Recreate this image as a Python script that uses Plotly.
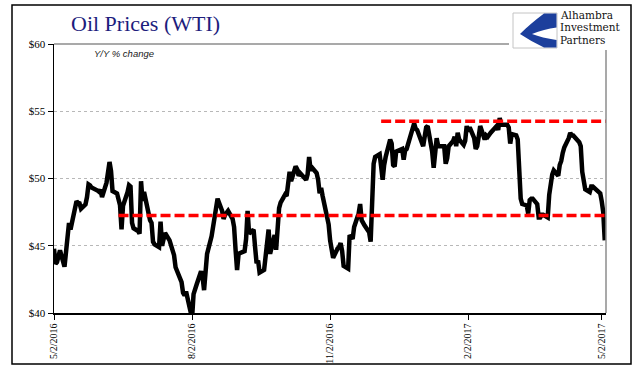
import plotly.graph_objects as go

# ---------------- data ----------------
trade_dates = [
    # May 2016
    "2016-05-02", "2016-05-03", "2016-05-04", "2016-05-05", "2016-05-06", "2016-05-09", "2016-05-10",
    "2016-05-11", "2016-05-12", "2016-05-13", "2016-05-16", "2016-05-17", "2016-05-18", "2016-05-19",
    "2016-05-20", "2016-05-23", "2016-05-24", "2016-05-25", "2016-05-26", "2016-05-27", "2016-05-31",
    # Jun 2016
    "2016-06-01", "2016-06-02", "2016-06-03", "2016-06-06", "2016-06-07", "2016-06-08", "2016-06-09",
    "2016-06-10", "2016-06-13", "2016-06-14", "2016-06-15", "2016-06-16", "2016-06-17", "2016-06-20",
    "2016-06-21", "2016-06-22", "2016-06-23", "2016-06-24", "2016-06-27", "2016-06-28", "2016-06-29",
    "2016-06-30",
    # Jul 2016
    "2016-07-01", "2016-07-05", "2016-07-06", "2016-07-07", "2016-07-08", "2016-07-11", "2016-07-12",
    "2016-07-13", "2016-07-14", "2016-07-15", "2016-07-18", "2016-07-19", "2016-07-20", "2016-07-21",
    "2016-07-22", "2016-07-25", "2016-07-26", "2016-07-27", "2016-07-28", "2016-07-29",
    # Aug 2016
    "2016-08-01", "2016-08-02", "2016-08-03", "2016-08-04", "2016-08-05", "2016-08-08", "2016-08-09",
    "2016-08-10", "2016-08-11", "2016-08-12", "2016-08-15", "2016-08-16", "2016-08-17", "2016-08-18",
    "2016-08-19", "2016-08-22", "2016-08-23", "2016-08-24", "2016-08-25", "2016-08-26", "2016-08-29",
    "2016-08-30", "2016-08-31",
    # Sep 2016
    "2016-09-01", "2016-09-02", "2016-09-06", "2016-09-07", "2016-09-08", "2016-09-09", "2016-09-12",
    "2016-09-13", "2016-09-14", "2016-09-15", "2016-09-16", "2016-09-19", "2016-09-20", "2016-09-21",
    "2016-09-22", "2016-09-23", "2016-09-26", "2016-09-27", "2016-09-28", "2016-09-29", "2016-09-30",
    # Oct 2016
    "2016-10-03", "2016-10-04", "2016-10-05", "2016-10-06", "2016-10-07", "2016-10-10", "2016-10-11",
    "2016-10-12", "2016-10-13", "2016-10-14", "2016-10-17", "2016-10-18", "2016-10-19", "2016-10-20",
    "2016-10-21", "2016-10-24", "2016-10-25", "2016-10-26", "2016-10-27", "2016-10-28", "2016-10-31",
    # Nov 2016
    "2016-11-01", "2016-11-02", "2016-11-03", "2016-11-04", "2016-11-07", "2016-11-08", "2016-11-09",
    "2016-11-10", "2016-11-11", "2016-11-14", "2016-11-15", "2016-11-16", "2016-11-17", "2016-11-18",
    "2016-11-21", "2016-11-22", "2016-11-23", "2016-11-25", "2016-11-28", "2016-11-29", "2016-11-30",
    # Dec 2016
    "2016-12-01", "2016-12-02", "2016-12-05", "2016-12-06", "2016-12-07", "2016-12-08", "2016-12-09",
    "2016-12-12", "2016-12-13", "2016-12-14", "2016-12-15", "2016-12-16", "2016-12-19", "2016-12-20",
    "2016-12-21", "2016-12-22", "2016-12-23", "2016-12-27", "2016-12-28", "2016-12-29", "2016-12-30",
    # Jan 2017
    "2017-01-03", "2017-01-04", "2017-01-05", "2017-01-06", "2017-01-09", "2017-01-10", "2017-01-11",
    "2017-01-12", "2017-01-13", "2017-01-17", "2017-01-18", "2017-01-19", "2017-01-20", "2017-01-23",
    "2017-01-24", "2017-01-25", "2017-01-26", "2017-01-27", "2017-01-30", "2017-01-31",
    # Feb 2017
    "2017-02-01", "2017-02-02", "2017-02-03", "2017-02-06", "2017-02-07", "2017-02-08", "2017-02-09",
    "2017-02-10", "2017-02-13", "2017-02-14", "2017-02-15", "2017-02-16", "2017-02-17", "2017-02-21",
    "2017-02-22", "2017-02-23", "2017-02-24", "2017-02-27", "2017-02-28",
    # Mar 2017
    "2017-03-01", "2017-03-02", "2017-03-03", "2017-03-06", "2017-03-07", "2017-03-08", "2017-03-09",
    "2017-03-10", "2017-03-13", "2017-03-14", "2017-03-15", "2017-03-16", "2017-03-17", "2017-03-20",
    "2017-03-21", "2017-03-22", "2017-03-23", "2017-03-24", "2017-03-27", "2017-03-28", "2017-03-29",
    "2017-03-30", "2017-03-31",
    # Apr 2017
    "2017-04-03", "2017-04-04", "2017-04-05", "2017-04-06", "2017-04-07", "2017-04-10", "2017-04-11",
    "2017-04-12", "2017-04-13", "2017-04-17", "2017-04-18", "2017-04-19", "2017-04-20", "2017-04-21",
    "2017-04-24", "2017-04-25", "2017-04-26", "2017-04-27", "2017-04-28",
    # May 2017
    "2017-05-01", "2017-05-02", "2017-05-03", "2017-05-04",
]

wti_price = [
    # May 2016
    44.78, 43.65, 43.78, 44.32, 44.66, 43.44, 44.66, 46.23, 46.70, 46.21, 47.72, 48.31, 48.19, 48.16,
    47.75, 48.08, 48.62, 49.56, 49.48, 49.33, 49.10,
    # Jun 2016
    49.01, 49.17, 48.62, 49.69, 50.36, 51.23, 50.56, 49.07, 48.88, 48.49, 48.01, 46.21, 47.98, 48.98,
    49.50, 49.40, 46.70, 46.30, 46.10, 45.90, 49.80, 48.33,
    # Jul 2016
    49.00, 46.90, 46.70, 45.30, 45.10, 44.90, 46.80, 45.00, 45.70, 45.95, 45.40, 45.00, 44.90, 44.30,
    43.40, 42.50, 42.30, 41.50, 41.30, 41.60,
    # Aug 2016
    40.30, 39.60, 41.40, 41.90, 42.10, 43.10, 42.70, 41.70, 43.60, 44.40, 45.70, 46.50, 47.00, 48.20,
    48.50, 47.60, 47.00, 47.30, 47.50, 47.60, 47.00, 46.40, 44.70,
    # Sep 2016
    43.20, 44.40, 44.60, 45.50, 47.60, 45.90, 46.20, 44.90, 43.70, 43.90, 43.00, 43.20, 44.10, 45.30,
    46.20, 44.40, 45.80, 44.70, 47.10, 47.80, 48.20,
    # Oct 2016
    48.80, 48.70, 49.80, 50.50, 49.80, 50.90, 50.70, 50.20, 50.40, 50.30, 49.90, 50.30, 51.60, 50.60,
    50.80, 50.40, 49.90, 48.90, 49.30, 48.70, 46.90,
    # Nov 2016
    46.60, 45.40, 44.60, 44.10, 44.80, 44.90, 45.20, 44.60, 43.50, 43.30, 45.80, 45.60, 45.50, 46.40,
    47.40, 48.10, 46.90, 46.50, 46.00, 45.30, 49.40,
    # Dec 2016
    51.10, 51.60, 51.80, 50.90, 49.90, 51.00, 51.60, 52.90, 52.60, 51.00, 50.90, 52.00, 52.10, 52.20,
    51.40, 52.10, 52.20, 53.90, 54.10, 53.70, 53.60,
    # Jan 2017
    52.40, 53.30, 53.80, 53.90, 52.00, 50.80, 52.30, 53.00, 52.40, 52.40, 51.10, 51.50, 52.40, 52.80,
    53.10, 52.40, 53.40, 52.90, 52.50, 52.80,
    # Feb 2017
    53.90, 53.50, 53.80, 53.00, 52.20, 52.40, 53.10, 53.90, 52.90, 53.20, 53.10, 53.30, 53.40, 53.90,
    53.60, 54.50, 54.00, 54.00, 54.00,
    # Mar 2017
    53.80, 52.60, 53.30, 53.20, 52.90, 49.80, 48.50, 48.10, 48.00, 47.40, 48.40, 48.50, 48.50, 48.10,
    47.10, 47.10, 47.30, 47.30, 47.10, 48.80, 49.90, 50.30, 50.60,
    # Apr 2017
    50.20, 51.00, 51.30, 51.90, 52.30, 53.00, 53.40, 53.20, 53.20, 52.70, 52.40, 50.50, 49.70, 49.20,
    49.00, 49.40, 49.40, 49.30, 49.20,
    # May 2017
    48.90, 48.30, 47.50, 45.40,
]

# horizontal reference levels (red dashed)
ref_levels = [47.25, 54.25]
ref_start = ["2016-06-14", "2016-12-06"]
ref_end = ["2017-05-04 20:00", "2017-05-04 20:00"]

x_tick_dates = ["2016-05-02", "2016-08-02", "2016-11-02", "2017-02-02", "2017-05-02"]
x_tick_labels = ["5/2/2016", "8/2/2016", "11/2/2016", "2/2/2017", "5/2/2017"]
y_tick_vals = [40, 45, 50, 55, 60]
y_tick_labels = ["$40", "$45", "$50", "$55", "$60"]

title_text = "Oil Prices (WTI)"
subtitle_text = "Y/Y % change"
logo_lines = ["Alhambra", "Investment", "Partners"]

assert len(trade_dates) == len(wti_price)

# ---------------- geometry helpers (pixel -> paper) ----------------
W, H = 641, 381
L, R, T, B = 54, 606, 44, 313


def px(x):
    return (x - L) / (R - L)


def py(y):
    return (B - y) / (B - T)


SERIF = "Liberation Serif, Times New Roman, serif"

fig = go.Figure()

fig.add_trace(go.Scatter(
    x=trade_dates, y=wti_price, mode="lines",
    line=dict(color="#000000", width=4.5),
    hoverinfo="skip", showlegend=False,
))

for lvl, s, e in zip(ref_levels, ref_start, ref_end):
    fig.add_trace(go.Scatter(
        x=[s, e], y=[lvl, lvl], mode="lines",
        line=dict(color="#ff0000", width=3.5, dash="10px,4px"),
        hoverinfo="skip", showlegend=False,
    ))

shapes = []
# plot-area top and right border (gray)
shapes.append(dict(type="line", xref="paper", yref="paper", x0=0, x1=1, y0=1, y1=1,
                   line=dict(color="#8c8c8c", width=1.5)))
shapes.append(dict(type="line", xref="paper", yref="paper", x0=1, x1=1, y0=0, y1=1,
                   line=dict(color="#8c8c8c", width=1.5)))
# white backing for logo
shapes.append(dict(type="rect", xref="paper", yref="paper",
                   x0=px(509), x1=px(629), y0=py(50), y1=py(7),
                   fillcolor="#ffffff", line=dict(width=0)))
# outer frame
shapes.append(dict(type="rect", xref="paper", yref="paper",
                   x0=px(12), x1=px(631), y0=py(364), y1=py(5),
                   fillcolor="rgba(0,0,0,0)", line=dict(color="#000000", width=1.5)))
# logo box
shapes.append(dict(type="rect", xref="paper", yref="paper",
                   x0=px(513), x1=px(557), y0=py(48), y1=py(13),
                   fillcolor="#ffffff", line=dict(color="#c4c4c4", width=1)))
# logo swoosh
pts = [("M", 556.5, 13.5), ("L", 544, 13.5), ("Q", 530, 24), ("", 520, 34),
       ("Q", 532, 42), ("", 544, 47.5), ("L", 556.5, 47.5), ("L", 556.5, 40),
       ("Q", 542, 38), ("", 532, 34), ("Q", 544, 29), ("", 556.5, 27.5)]
path = ""
for cmd, x, y in pts:
    path += f"{cmd}{px(x):.5f},{py(y):.5f} "
path += "Z"
shapes.append(dict(type="path", xref="paper", yref="paper", path=path,
                   fillcolor="#1c3f9c", line=dict(width=0)))

annotations = [
    dict(text=title_text, xref="paper", yref="paper", x=px(69), y=py(24),
         xanchor="left", yanchor="middle", showarrow=False,
         font=dict(family=SERIF, size=22, color="#1d1d7d")),
    dict(text=f"<i>{subtitle_text}</i>", xref="paper", yref="paper", x=px(92), y=py(53),
         xanchor="left", yanchor="middle", showarrow=False,
         font=dict(family="Liberation Sans, Arial, sans-serif", size=9.5, color="#1a1a1a")),
]
for i, line in enumerate(logo_lines):
    annotations.append(dict(text=line, xref="paper", yref="paper", x=px(558), y=py(15 + 12.3 * i),
                            xanchor="left", yanchor="middle", showarrow=False,
                            font=dict(family="DejaVu Serif, serif", size=10.5, color="#111111")))

fig.update_layout(
    width=W, height=H,
    margin=dict(l=L, r=W - R, t=T, b=H - B, pad=0),
    paper_bgcolor="#ffffff", plot_bgcolor="#ffffff",
    showlegend=False, hovermode=False,
    shapes=shapes, annotations=annotations,
    xaxis=dict(
        type="date", range=["2016-05-02", "2017-05-04 20:00"],
        tickvals=x_tick_dates, ticktext=x_tick_labels, tickangle=-90,
        ticks="outside", ticklen=5, tickcolor="#000000", tickwidth=1,
        showline=True, linecolor="#000000", linewidth=1.5,
        showgrid=False, zeroline=False,
        tickfont=dict(family=SERIF, size=10, color="#000000"),
    ),
    yaxis=dict(
        range=[40, 60], tickvals=y_tick_vals, ticktext=y_tick_labels,
        ticks="outside", ticklen=5, tickcolor="#000000", tickwidth=1,
        showline=True, linecolor="#000000", linewidth=1.5,
        showgrid=True, gridcolor="#b8b8b8", griddash="dot", gridwidth=1,
        zeroline=False,
        tickfont=dict(family=SERIF, size=11, color="#000000"),
    ),
)

fig.write_html(
    "out.html",
    config={"displayModeBar": False, "staticPlot": True},
    post_script="document.body.style.margin='0px';document.body.style.overflow='hidden';",
)
